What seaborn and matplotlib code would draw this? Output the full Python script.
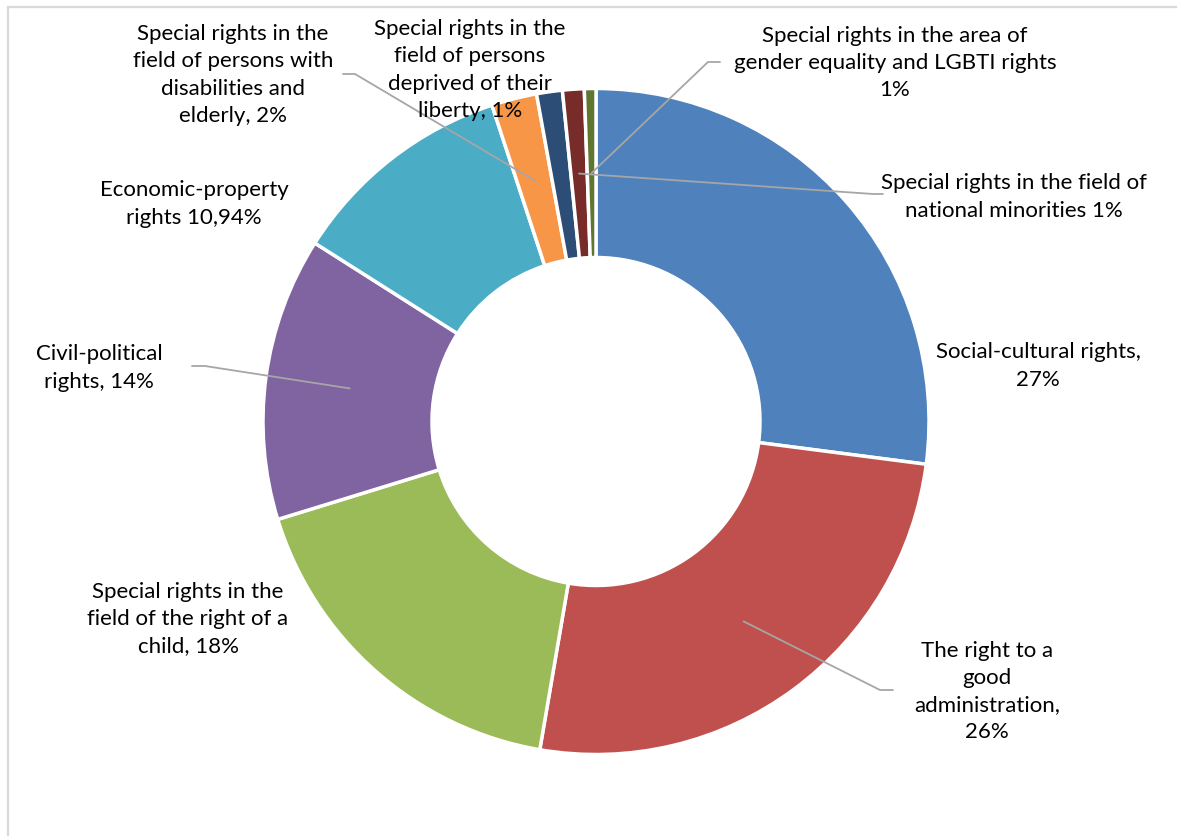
import numpy as np
import matplotlib
matplotlib.use("Agg")
import matplotlib.pyplot as plt
from matplotlib.patches import Rectangle
import seaborn as sns

# Complaints by area of rights (share, %)
categories = [
    "Social-cultural rights",
    "The right to a good administration",
    "Special rights in the field of the right of a child",
    "Civil-political rights",
    "Economic-property rights",
    "Special rights in the field of persons with disabilities and elderly",
    "Special rights in the field of persons deprived of their liberty",
    "Special rights in the field of national minorities",
    "Special rights in the area of gender equality and LGBTI rights",
]
shares = [27.05, 25.65, 17.55, 13.75, 10.94, 2.2, 1.25, 1.05, 0.56]
label_texts = [
    "Social-cultural rights,\n27%",
    "The right to a\ngood\nadministration,\n26%",
    "Special rights in the\nfield of the right of a\nchild, 18%",
    "Civil-political\nrights, 14%",
    "Economic-property\nrights 10,94%",
    "Special rights in the\nfield of persons with\ndisabilities and\nelderly, 2%",
    "Special rights in the\nfield of persons\ndeprived of their\nliberty, 1%",
    "Special rights in the field of\nnational minorities 1%",
    "Special rights in the area of\ngender equality and LGBTI rights\n1%",
]
slice_colors = ["#4F81BD", "#C0504D", "#9BBB59", "#8064A2", "#4BACC6",
                "#F79646", "#2C4D75", "#772C2A", "#5F7530"]

W, H = 1177, 836
sns.set_theme(style="white")
plt.rcParams["font.family"] = ["Lato", "DejaVu Sans"]

fig = plt.figure(figsize=(W / 100, H / 100), dpi=100)
ax = fig.add_axes([0, 0, 1, 1])


def py(y):
    """Convert a top-down pixel row to a data y value."""
    return H - y


cx, cy = 596, py(421.5)
R_out, R_in = 333, 164

palette = sns.color_palette(slice_colors)
wedges, _ = ax.pie(
    shares, colors=palette, startangle=90, counterclock=False,
    center=(cx, cy), radius=R_out,
    wedgeprops=dict(width=R_out - R_in, edgecolor="white", linewidth=2.5),
)
ax.set_xlim(0, W)
ax.set_ylim(0, H)
ax.set_aspect("equal")
ax.axis("off")

# chart area border (only the top and left edges fall inside the canvas)
ax.add_patch(Rectangle((8, -20), W + 50, py(7) + 20, fill=False,
                       edgecolor="#D9D9D9", linewidth=1.6, zorder=0))

# label anchors (x, y) and optional leader elbow (x, y, end_x)
label_pos = [
    (1038, 366), (987, 691.5), (188, 619), (99, 368), (194, 204),
    (233, 75), (470, 70), (1014, 197), (895, 63),
]
leaders = {
    1: (880, 690, 893),
    3: (205, 366, 192),
    5: (355, 74, 343),
    7: (873, 194, 883),
    8: (708, 62, 720),
}

r_mid = (R_out + R_in) / 2
for i, w in enumerate(wedges):
    x, y = label_pos[i]
    ax.text(x, py(y), label_texts[i], ha="center", va="center",
            multialignment="center", fontsize=16, color="#000000",
            linespacing=1.45, zorder=5)
    if i in leaders:
        ang = np.deg2rad((w.theta1 + w.theta2) / 2)
        sx = cx + r_mid * np.cos(ang)
        sy = cy + r_mid * np.sin(ang)
        ex, ey, tx = leaders[i]
        ax.plot([sx, ex, tx], [sy, py(ey), py(ey)], color="#A6A6A6",
                linewidth=1.3, solid_joinstyle="miter", zorder=4)

fig.savefig("out.png", dpi=100)
